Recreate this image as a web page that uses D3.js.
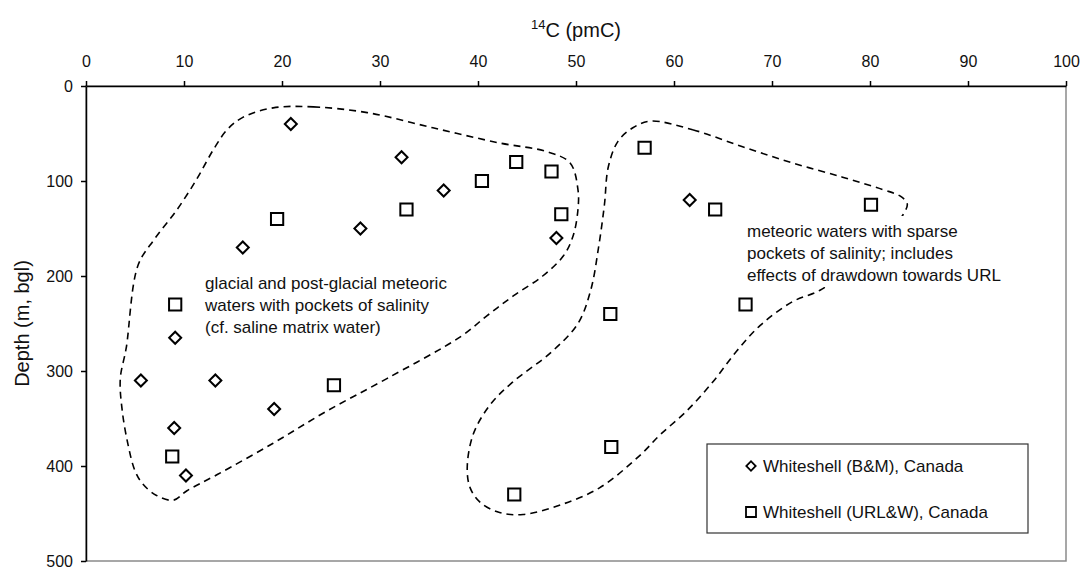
<!DOCTYPE html>
<html>
<head>
<meta charset="utf-8">
<script src="https://cdn.jsdelivr.net/npm/d3@7"></script>
<style>
  html, body { margin: 0; padding: 0; background: #fff; }
  svg { display: block; font-family: "Liberation Sans", Arial, sans-serif; }
</style>
</head>
<body>
<svg id="chart" width="1083" height="570"></svg>
<script>
// 14C activity (pmC) against depth (m below ground level)
const xTicks = [0, 10, 20, 30, 40, 50, 60, 70, 80, 90, 100];
const yTicks = [0, 100, 200, 300, 400, 500];

// Whiteshell (B&M), Canada
const bmPmc   = [20.9, 32.2, 36.5, 28.0, 16.0, 9.1, 5.6, 13.2, 19.2, 9.0, 10.2, 48.0, 61.6];
const bmDepth = [40, 75, 110, 150, 170, 265, 310, 310, 340, 360, 410, 160, 120];

// Whiteshell (URL&W), Canada
const urlPmc   = [43.9, 40.4, 47.5, 48.5, 32.7, 19.5, 9.1, 25.3, 8.8, 57.0, 64.2, 80.1, 53.5, 67.3, 53.6, 43.7];
const urlDepth = [80, 100, 90, 135, 130, 140, 230, 315, 390, 65, 130, 125, 240, 230, 380, 430];

// Outline of the glacial / post-glacial group (pmC, depth)
const glacialOutline = [
  [19.1, 23], [23.2, 22], [28.7, 28], [35.4, 44], [42.2, 60], [47.0, 69], [49.4, 81],
  [50.2, 109], [50.2, 130], [49.7, 158], [48.7, 179], [46.6, 200], [43.6, 221],
  [40.9, 242], [38.2, 264], [30.7, 308], [24.6, 342], [19.1, 376], [13.4, 409],
  [10.3, 426], [8.9, 436], [7.2, 431], [5.8, 419], [5.0, 405], [4.3, 378], [3.7, 342],
  [3.5, 308], [4.1, 276], [5.3, 189], [7.0, 161], [9.3, 130], [11.3, 98], [13.0, 67],
  [14.4, 46], [16.0, 33]
];

// Outline of the meteoric group (pmC, depth)
const meteoricOutline = [
  [57.6, 37], [61.9, 46], [67.0, 64], [72.1, 81], [77.2, 96], [81.3, 109], [83.1, 116],
  [83.8, 124], [83.4, 135], [81.0, 166], [78.0, 192], [74.9, 215], [72.1, 227],
  [68.8, 252], [66.4, 279], [64.0, 311], [61.3, 342], [58.6, 367], [56.5, 389],
  [52.4, 423], [48.4, 441], [44.6, 451], [42.2, 449], [40.2, 438], [39.2, 423],
  [38.9, 402], [39.5, 367], [41.2, 336], [43.5, 312], [47.5, 280], [50.2, 250],
  [51.5, 215], [52.3, 170], [52.9, 125], [53.3, 85], [54.3, 58], [55.8, 44]
];

const glacialNote  = ["glacial and post-glacial meteoric", "waters with pockets of salinity", "(cf. saline matrix water)"];
const meteoricNote = ["meteoric waters with sparse", "pockets of salinity; includes", "effects of drawdown towards URL"];
const legendLabels = ["Whiteshell (B&M), Canada", "Whiteshell (URL&W), Canada"];

const svg = d3.select("#chart");
const plotLeft = 86, plotRight = 1066, plotTop = 86, plotBottom = 561;

const x = d3.scaleLinear().domain([0, 100]).range([plotLeft, plotRight]);
const y = d3.scaleLinear().domain([0, 500]).range([plotTop, plotBottom]);

// plot frame (right and bottom edges are grey)
svg.append("rect")
  .attr("x", plotLeft).attr("y", plotTop)
  .attr("width", plotRight - plotLeft).attr("height", plotBottom - plotTop)
  .attr("fill", "#fff").attr("stroke", "#8a8a8a").attr("stroke-width", 1.5);

// dashed group outlines
const outline = d3.line()
  .x(d => x(d[0])).y(d => y(d[1]))
  .curve(d3.curveCatmullRomClosed.alpha(0.5));

[glacialOutline, meteoricOutline].forEach(pts => {
  svg.append("path")
    .attr("d", outline(pts))
    .attr("fill", "none")
    .attr("stroke", "#000")
    .attr("stroke-width", 1.6)
    .attr("stroke-dasharray", "7,5");
});

// annotation text boxes
function note(lines, x0, y0) {
  const g = svg.append("g");
  const bg = g.append("rect").attr("fill", "#fff");
  const t = g.append("text")
    .attr("font-size", 17).attr("fill", "#111");
  lines.forEach((s, i) => {
    t.append("tspan").attr("x", x0).attr("y", y0 + i * 22).text(s);
  });
  const b = t.node().getBBox();
  bg.attr("x", b.x - 6).attr("y", b.y - 6)
    .attr("width", b.width + 12).attr("height", b.height + 8);
}
note(glacialNote, 205, 289);
note(meteoricNote, 747, 237);

// markers
const diamond = d3.symbol().type(d3.symbolSquare).size(72);
const square  = d3.symbol().type(d3.symbolSquare).size(150);

svg.append("g").selectAll("path")
  .data(bmPmc.map((v, i) => [v, bmDepth[i]]))
  .join("path")
  .attr("d", diamond)
  .attr("transform", d => `translate(${x(d[0])},${y(d[1])}) rotate(45)`)
  .attr("fill", "#fff").attr("stroke", "#000").attr("stroke-width", 2);

svg.append("g").selectAll("path")
  .data(urlPmc.map((v, i) => [v, urlDepth[i]]))
  .join("path")
  .attr("d", square)
  .attr("transform", d => `translate(${x(d[0])},${y(d[1])})`)
  .attr("fill", "#fff").attr("stroke", "#000").attr("stroke-width", 2);

// axes
const xAxis = d3.axisTop(x).tickValues(xTicks).tickSize(5).tickSizeOuter(0).tickPadding(14);
const yAxis = d3.axisLeft(y).tickValues(yTicks).tickSize(5).tickSizeOuter(0).tickPadding(8);

const gx = svg.append("g").attr("transform", `translate(0,${plotTop})`).call(xAxis);
const gy = svg.append("g").attr("transform", `translate(${plotLeft},0)`).call(yAxis);

[gx, gy].forEach(g => {
  g.select(".domain").attr("stroke", "#000").attr("stroke-width", 1.5);
  g.selectAll(".tick line").attr("stroke", "#000").attr("stroke-width", 1.5);
  g.selectAll(".tick text")
    .attr("font-size", 16).attr("fill", "#111")
    .attr("font-family", "Liberation Sans, Arial, sans-serif");
});

// axis titles
const xt = svg.append("text")
  .attr("x", (plotLeft + plotRight) / 2).attr("y", 37)
  .attr("text-anchor", "middle").attr("fill", "#111");
xt.append("tspan").attr("font-size", 13).attr("dy", -8).text("14");
xt.append("tspan").attr("font-size", 20).attr("dy", 8).text("C (pmC)");

svg.append("text")
  .attr("transform", `translate(29,${(plotTop + plotBottom) / 2}) rotate(-90)`)
  .attr("text-anchor", "middle")
  .attr("font-size", 20).attr("fill", "#111")
  .text("Depth (m, bgl)");

// legend
const lg = svg.append("g");
lg.append("rect")
  .attr("x", 707).attr("y", 444).attr("width", 321).attr("height", 89)
  .attr("fill", "#fff").attr("stroke", "#333").attr("stroke-width", 1.2);

const legendSymbols = [
  d3.symbol().type(d3.symbolSquare).size(44),
  d3.symbol().type(d3.symbolSquare).size(100)
];
legendLabels.forEach((label, i) => {
  const cy = 466 + i * 46;
  lg.append("path")
    .attr("d", legendSymbols[i])
    .attr("transform", `translate(751,${cy})` + (i === 0 ? " rotate(45)" : ""))
    .attr("fill", "#fff").attr("stroke", "#000").attr("stroke-width", 1.8);
  lg.append("text")
    .attr("x", 763).attr("y", cy + 6)
    .attr("font-size", 17).attr("fill", "#111")
    .text(label);
});
</script>
</body>
</html>
